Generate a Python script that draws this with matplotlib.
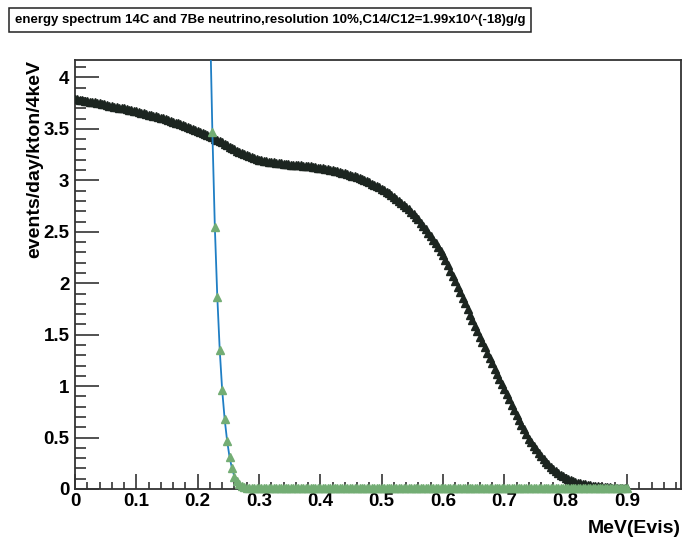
import numpy as np
import matplotlib
matplotlib.use('Agg')
import matplotlib.pyplot as plt
from matplotlib.ticker import MultipleLocator, FuncFormatter

plt.rcParams['font.family'] = ['Liberation Sans', 'DejaVu Sans']
plt.rcParams['font.weight'] = 'bold'

title = 'energy spectrum 14C and 7Be neutrino,resolution 10%,C14/C12=1.99x10^(-18)g/g'
bin_width = 0.004  # MeV, 4 keV bins
e_bins = np.round(np.arange(0, 0.9 + bin_width / 2, bin_width), 3)

# 14C spectrum, events/day/kton/4keV, one value per bin from 0 to 0.9 MeV
c14_counts = [
    3.790, 3.786, 3.782, 3.778, 3.774, 3.770, 3.766, 3.762, 3.758, 3.754,
    3.750, 3.744, 3.738, 3.732, 3.726, 3.720, 3.716, 3.712, 3.708, 3.704,
    3.700, 3.694, 3.688, 3.682, 3.676, 3.670, 3.664, 3.658, 3.652, 3.646,
    3.640, 3.634, 3.628, 3.622, 3.616, 3.610, 3.602, 3.594, 3.586, 3.578,
    3.570, 3.562, 3.554, 3.546, 3.538, 3.530, 3.520, 3.510, 3.500, 3.490,
    3.480, 3.470, 3.460, 3.450, 3.440, 3.430, 3.418, 3.406, 3.394, 3.382,
    3.370, 3.356, 3.342, 3.328, 3.314, 3.300, 3.290, 3.280, 3.270, 3.260,
    3.250, 3.240, 3.230, 3.220, 3.210, 3.200, 3.195, 3.190, 3.186, 3.183,
    3.180, 3.176, 3.172, 3.168, 3.164, 3.160, 3.158, 3.156, 3.154, 3.152,
    3.150, 3.148, 3.146, 3.144, 3.142, 3.140, 3.136, 3.132, 3.128, 3.124,
    3.120, 3.116, 3.112, 3.108, 3.104, 3.100, 3.094, 3.088, 3.082, 3.076,
    3.070, 3.062, 3.054, 3.046, 3.038, 3.030, 3.020, 3.010, 3.000, 2.990,
    2.980, 2.968, 2.956, 2.944, 2.932, 2.920, 2.905, 2.889, 2.873, 2.857,
    2.840, 2.821, 2.802, 2.782, 2.761, 2.740, 2.717, 2.694, 2.670, 2.645,
    2.620, 2.590, 2.558, 2.526, 2.493, 2.460, 2.424, 2.387, 2.349, 2.310,
    2.270, 2.222, 2.173, 2.123, 2.072, 2.020, 1.966, 1.912, 1.858, 1.804,
    1.750, 1.696, 1.642, 1.588, 1.534, 1.480, 1.428, 1.376, 1.324, 1.272,
    1.220, 1.170, 1.120, 1.070, 1.020, 0.970, 0.920, 0.870, 0.820, 0.770,
    0.720, 0.672, 0.626, 0.581, 0.536, 0.490, 0.454, 0.419, 0.385, 0.352,
    0.320, 0.292, 0.265, 0.239, 0.214, 0.190, 0.172, 0.155, 0.139, 0.124,
    0.110, 0.099, 0.089, 0.079, 0.069, 0.060, 0.054, 0.049, 0.044, 0.039,
    0.035, 0.032, 0.029, 0.026, 0.023, 0.020, 0.018, 0.016, 0.015, 0.013,
    0.012, 0.011, 0.010, 0.009, 0.008, 0.008,
]

# 7Be spectrum from 0.212 MeV to 0.9 MeV (first points run off the top)
be7_counts = [
    7.20, 5.80, 4.60, 3.47, 2.55, 1.87, 1.35, 0.96, 0.68, 0.47,
    0.31, 0.20, 0.12, 0.075, 0.045, 0.028, 0.018, 0.012, 0.009, 0.007,
    0.006,
    0.005, 0.005, 0.005, 0.005, 0.005, 0.005, 0.005, 0.005, 0.005, 0.005,
    0.005, 0.005, 0.005, 0.005, 0.005, 0.005, 0.005, 0.005, 0.005, 0.005,
    0.005, 0.005, 0.005, 0.005, 0.005, 0.005, 0.005, 0.005, 0.005, 0.005,
    0.005, 0.005, 0.005, 0.005, 0.005, 0.005, 0.005, 0.005, 0.005, 0.005,
    0.005, 0.005, 0.005, 0.005, 0.005, 0.005, 0.005, 0.005, 0.005, 0.005,
    0.005, 0.005, 0.005, 0.005, 0.005, 0.005, 0.005, 0.005, 0.005, 0.005,
    0.005, 0.005, 0.005, 0.005, 0.005, 0.005, 0.005, 0.005, 0.005, 0.005,
    0.005, 0.005, 0.005, 0.005, 0.005, 0.005, 0.005, 0.005, 0.005, 0.005,
    0.005, 0.005, 0.005, 0.005, 0.005, 0.005, 0.005, 0.005, 0.005, 0.005,
    0.005, 0.005, 0.005, 0.005, 0.005, 0.005, 0.005, 0.005, 0.005, 0.005,
    0.005, 0.005, 0.005, 0.005, 0.005, 0.005, 0.005, 0.005, 0.005, 0.005,
    0.005, 0.005, 0.005, 0.005, 0.005, 0.005, 0.005, 0.005, 0.005, 0.005,
    0.005, 0.005, 0.005, 0.005, 0.005, 0.005, 0.005, 0.005, 0.005, 0.005,
    0.005, 0.005, 0.005, 0.005, 0.005, 0.005, 0.005, 0.005, 0.005, 0.005,
    0.005, 0.005, 0.005, 0.005, 0.005, 0.005, 0.005, 0.005, 0.005, 0.005,
    0.005, 0.005,
]

x_max = 0.988
y_max = 4.17

fig = plt.figure(figsize=(6.83, 5.39), dpi=100)
ax = fig.add_axes([0.1098, 0.0928, 0.8872, 0.7959])

c14 = np.array(c14_counts)
be7 = np.array(be7_counts)
e_be7 = e_bins[-len(be7):]

ax.plot(e_bins, c14, ls='none', marker='^', ms=6, color='#1c2520', mec='#1c2520', zorder=3)
ax.plot(e_be7, be7, color='#1f7ec4', lw=1.3, zorder=4)
show = be7 < y_max
ax.plot(e_be7[show], be7[show], ls='none', marker='^', ms=6, color='#73ad74',
        mec='#73ad74', clip_on=False, zorder=5)

ax.set_xlim(0, x_max)
ax.set_ylim(0, y_max)

ax.xaxis.set_major_locator(MultipleLocator(0.1))
ax.xaxis.set_minor_locator(MultipleLocator(0.02))
ax.yaxis.set_major_locator(MultipleLocator(0.5))
ax.yaxis.set_minor_locator(MultipleLocator(0.1))
fmt = FuncFormatter(lambda v, p: '%g' % round(v, 3))
ax.xaxis.set_major_formatter(fmt)
ax.yaxis.set_major_formatter(fmt)

ax.tick_params(which='both', direction='in', top=False, right=False, labelsize=13.5,
               width=1.1, color='#222222')
ax.tick_params(axis='y', which='major', length=17, pad=4)
ax.tick_params(axis='y', which='minor', length=8)
ax.tick_params(axis='x', which='major', length=11, pad=3)
ax.tick_params(axis='x', which='minor', length=5)
for s in ax.spines.values():
    s.set_linewidth(1.3)
    s.set_color('#333333')

ax.set_ylabel('events/day/kton/4keV', fontsize=14, fontweight='bold', loc='top')
ax.yaxis.set_label_coords(-0.052, 1.0)
ax.set_xlabel('MeV(Evis)', fontsize=14, fontweight='bold', loc='right')
ax.xaxis.set_label_coords(1.0, -0.072)

fig.text(0.022, 0.963, title, fontsize=9.5, fontweight='bold', va='center', ha='left',
         bbox=dict(boxstyle='square,pad=0.45', fc='white', ec='#222222', lw=1.1))

fig.savefig('out.png', dpi=100)
